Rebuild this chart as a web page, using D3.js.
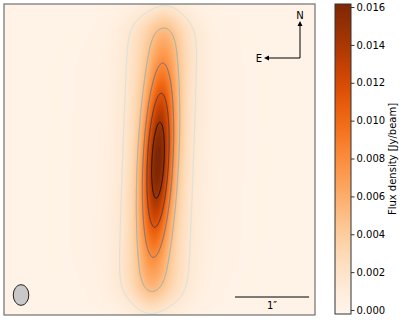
<!DOCTYPE html>
<html>
<head>
<meta charset="utf-8">
<script src="https://cdn.jsdelivr.net/npm/d3@7"></script>
<style>
  body { margin: 0; background: #fff; }
  text { font-family: "DejaVu Sans", sans-serif; }
</style>
</head>
<body>
<div id="chart"></div>
<script>
// contour levels (Jy/beam) and colorbar ticks
var levels = [0.0016, 0.0048, 0.0080, 0.0112, 0.0144];
var cbTicks = [0, 0.002, 0.004, 0.006, 0.008, 0.010, 0.012, 0.014, 0.016];
var cbRange = [-0.00021, 0.01616];

// source model components (arcsec, Jy/beam): core, ridge, faint halo
var compAmp = [0.012, 0.004, 0.0004];
var compX = [0.02, 0.02, 0.02];
var compY = [-0.01, 0.0, 0.0];
var compHalfLen = [0, 1.94, 1.9];
var compSigAlong = [0.85, 0.185, 0.4];
var compSigAcross = [0.142, 0.31, 0.9];
var compPA = [-3, -2, -2];

// beam: major, minor (arcsec), PA (deg)
var beam = [0.28, 0.21, 0];
var scaleBar = 1; // arcsec
var fieldHalf = 2.1;

var W = 407, H = 320;
var x0 = 4, size = 311;

var svg = d3.select('#chart').append('svg')
  .attr('width', W)
  .attr('height', H);

var x = d3.scaleLinear().domain([fieldHalf, -fieldHalf]).range([x0, x0 + size]);
var y = d3.scaleLinear().domain([-fieldHalf, fieldHalf]).range([x0 + size, x0]);

var color = d3.scaleSequential(d3.interpolateOranges).domain(cbRange);

function erf(z) {
  var s = z < 0 ? -1 : 1;
  z = Math.abs(z);
  var t = 1 / (1 + 0.3275911 * z);
  var p = 1 - (((((1.061405429 * t - 1.453152027) * t) + 1.421413741) * t - 0.284496736) * t + 0.254829592) * t * Math.exp(-z * z);
  return s * p;
}

function flux(sx, sy) {
  var f = 0;
  for (var k = 0; k < compAmp.length; k++) {
    var pa = compPA[k] * Math.PI / 180;
    var dx = sx - compX[k], dy = sy - compY[k];
    var u = dx * Math.sin(pa) + dy * Math.cos(pa);
    var v = dx * Math.cos(pa) - dy * Math.sin(pa);
    var s = compSigAlong[k];
    var along;
    if (compHalfLen[k] === 0) {
      along = Math.exp(-u * u / (2 * s * s));
    } else {
      var L = compHalfLen[k];
      along = 0.5 * (erf((L + u) / (Math.SQRT2 * s)) + erf((L - u) / (Math.SQRT2 * s)));
    }
    var b = compSigAcross[k];
    f += compAmp[k] * along * Math.exp(-v * v / (2 * b * b));
  }
  return f;
}

// grid of values, one per screen pixel
var values = new Float64Array(size * size);
for (var j = 0; j < size; j++) {
  for (var i = 0; i < size; i++) {
    values[j * size + i] = flux(x.invert(x0 + i + 0.5), y.invert(x0 + j + 0.5));
  }
}

var canvas = document.createElement('canvas');
canvas.width = size;
canvas.height = size;
var ctx = canvas.getContext('2d');
var img = ctx.createImageData(size, size);
for (var n = 0; n < values.length; n++) {
  var c = d3.rgb(color(values[n]));
  img.data[4 * n] = c.r;
  img.data[4 * n + 1] = c.g;
  img.data[4 * n + 2] = c.b;
  img.data[4 * n + 3] = 255;
}
ctx.putImageData(img, 0, 0);

svg.append('image')
  .attr('x', x0)
  .attr('y', x0)
  .attr('width', size)
  .attr('height', size)
  .attr('href', canvas.toDataURL());

// contours coloured with a bone_r style ramp
var bone = d3.scaleLinear()
  .domain([0, 0.365, 0.746, 1])
  .range(['#000000', '#515171', '#a6c6c6', '#ffffff']);

var contours = d3.contours().size([size, size]).thresholds(levels)(values);
var shift = d3.geoTransform({
  point: function(px, py) { this.stream.point(x0 + px, x0 + py); }
});
svg.append('g')
  .selectAll('path')
  .data(contours)
  .enter()
  .append('path')
  .attr('d', d3.geoPath(shift))
  .attr('fill', 'none')
  .attr('stroke', function(d) { return bone(0.97 - d.value / 0.016); })
  .attr('stroke-width', 1);

// beam
svg.append('ellipse')
  .attr('cx', x(1.87))
  .attr('cy', y(-1.83))
  .attr('rx', Math.abs(x(beam[1] / 2) - x(0)))
  .attr('ry', Math.abs(y(beam[0] / 2) - y(0)))
  .attr('fill', '#c8c8c8')
  .attr('stroke', '#222')
  .attr('stroke-width', 1);

// scale bar
var sbY = y(-1.857);
svg.append('line')
  .attr('x1', x(-1.02)).attr('x2', x(-1.02 - scaleBar))
  .attr('y1', sbY).attr('y2', sbY)
  .attr('stroke', '#000')
  .attr('stroke-width', 1);
svg.append('text')
  .attr('x', (x(-1.02) + x(-1.02 - scaleBar)) / 2)
  .attr('y', sbY + 12)
  .attr('text-anchor', 'middle')
  .attr('font-size', 10)
  .text(scaleBar + '\u2033');

// compass
var cx = 300, cy = 58;
svg.append('path')
  .attr('d', 'M' + cx + ',' + cy + 'V' + 25 + 'M' + cx + ',' + cy + 'H' + 268)
  .attr('stroke', '#000')
  .attr('fill', 'none')
  .attr('stroke-width', 1);
svg.append('path')
  .attr('d', 'M' + cx + ',21L' + (cx - 2.5) + ',26L' + (cx + 2.5) + ',26Z' +
    'M264,' + cy + 'L269,' + (cy - 2.5) + 'L269,' + (cy + 2.5) + 'Z')
  .attr('fill', '#000');
svg.append('text').attr('x', cx).attr('y', 19).attr('text-anchor', 'middle')
  .attr('font-size', 10).text('N');
svg.append('text').attr('x', 262).attr('y', 62).attr('text-anchor', 'end')
  .attr('font-size', 10).text('E');

// frame
svg.append('rect')
  .attr('x', x0).attr('y', x0)
  .attr('width', size).attr('height', size)
  .attr('fill', 'none')
  .attr('stroke', '#707070')
  .attr('stroke-width', 1.2);

// colorbar
var cbX = 335, cbW = 16, cbTop = 4, cbBot = 314;
var cbScale = d3.scaleLinear().domain(cbRange).range([cbBot, cbTop]);
var grad = svg.append('defs').append('linearGradient')
  .attr('id', 'cb')
  .attr('x1', 0).attr('y1', 1).attr('x2', 0).attr('y2', 0);
d3.range(0, 1.0001, 0.05).forEach(function(t) {
  grad.append('stop')
    .attr('offset', t)
    .attr('stop-color', color(cbRange[0] + t * (cbRange[1] - cbRange[0])));
});
svg.append('rect')
  .attr('x', cbX).attr('y', cbTop)
  .attr('width', cbW).attr('height', cbBot - cbTop)
  .attr('fill', 'url(#cb)')
  .attr('stroke', '#333')
  .attr('stroke-width', 1);

var cbAxis = svg.append('g')
  .attr('transform', 'translate(' + (cbX + cbW) + ',0)')
  .call(d3.axisRight(cbScale).tickValues(cbTicks).tickFormat(d3.format('.3f')).tickSize(3.5).tickPadding(2));
cbAxis.select('.domain').remove();
cbAxis.selectAll('text').attr('font-size', 10).attr('font-family', 'DejaVu Sans').attr('fill', '#000');
cbAxis.selectAll('line').attr('stroke', '#333');

svg.append('text')
  .attr('transform', 'translate(396,159) rotate(-90)')
  .attr('text-anchor', 'middle')
  .attr('font-size', 10)
  .text('Flux density [Jy/beam]');
</script>
</body>
</html>
